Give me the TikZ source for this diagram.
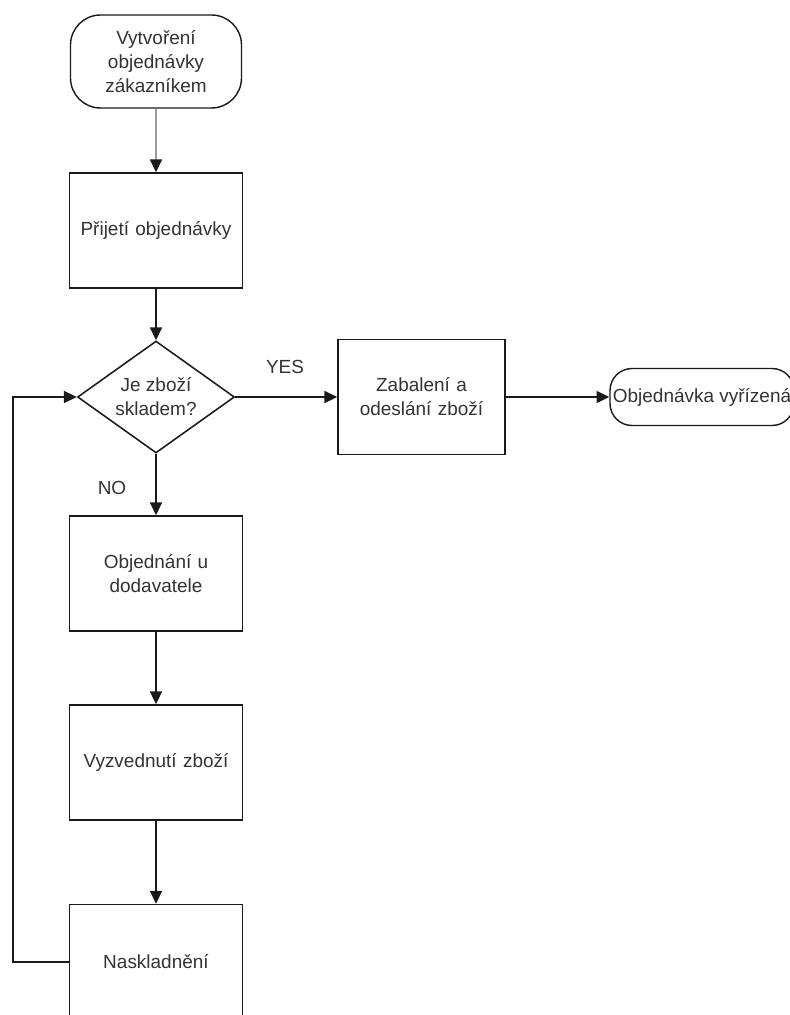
\documentclass[tikz,border=0pt]{standalone}
\usepackage{fontspec}
\setmainfont{Liberation Sans}
\usetikzlibrary{positioning,arrows.meta,shapes.geometric}
\definecolor{linecol}{HTML}{1A1A1A}
\definecolor{textcol}{HTML}{333333}
\definecolor{greyline}{HTML}{9A9A9A}

\begin{document}
\begin{tikzpicture}[
        font=\fontsize{13.5pt}{17pt}\selectfont,
        terminal/.style={rectangle, rounded corners=0.75cm, draw=linecol,
          line width=1pt, minimum width=4.275cm, minimum height=2.325cm,
          inner sep=0pt, align=center, text=textcol},
        process/.style={rectangle, draw=linecol, line width=1.1pt,
          minimum width=4.325cm, minimum height=2.875cm, inner sep=0pt,
          align=center, text width=4cm, text=textcol},
        decision/.style={diamond, aspect=1.4, draw=linecol, line width=1.1pt,
          minimum width=3.925cm, minimum height=2.8cm, inner sep=0pt,
          align=center, text=textcol},
        answer/.style={text=textcol, inner sep=0pt},
        arr/.style={-{Triangle[length=3.2mm, width=3mm, color=linecol]},
          draw=linecol, line width=1.1pt},
      ]
      \path[use as bounding box, fill=white] (0,0) rectangle (19.75,-25.375);

      \node[terminal] (zadani) at (3.9, -1.5375) {Vytvoření\\objednávky\\zákazníkem};
      \node[process] (prijeti) at (3.9, -5.7625) {Přijetí objednávky};
      \node[decision] (sklad) at (3.9, -9.925) {Je zboží\\skladem?};
      \node[process, minimum width=4.175cm] (zabaleni) at (10.5375, -9.925)
        {Zabalení a\\odeslání zboží};
      \node[terminal, rounded corners=0.55cm, minimum width=4.6cm,
        minimum height=1.425cm] (vyrizeno) at (17.55, -9.925)
        {Objednávka vyřízená};

      \node[process] (dodavatel) at (3.9, -14.3375) {Objednání u\\dodavatele};
      \node[process] (vyzvednuti) at (3.9, -19.0625) {Vyzvednutí zboží};
      \node[process] (naskladneni) at (3.9, -24.05) {Naskladnění};

      \node[answer] (yes) at (7.125, -9.175) {YES};
      \node[answer] (no) at (2.8, -12.2) {NO};

      \coordinate (smycka) at (0.325, -24.05);

      \draw[arr, draw=greyline] (zadani) -- (prijeti);
      \draw[arr] (prijeti) -- (sklad);
      \draw[arr] (sklad) -- (zabaleni);
      \draw[arr] (zabaleni) -- (vyrizeno);
      \draw[arr] (sklad) -- (dodavatel);
      \draw[arr] (dodavatel) -- (vyzvednuti);
      \draw[arr] (vyzvednuti) -- (naskladneni);
      \draw[arr] (naskladneni.west) -- (smycka) |- (sklad.west);
    \end{tikzpicture}
\end{document}
